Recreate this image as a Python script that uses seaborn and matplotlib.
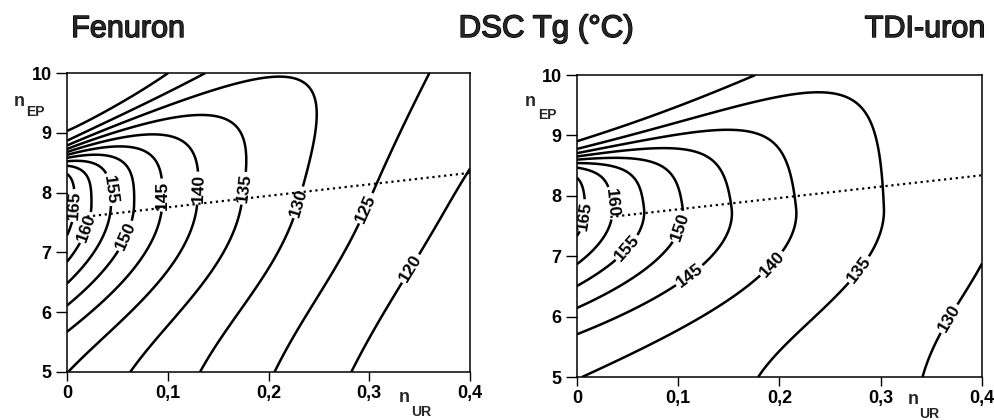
import numpy as np
import matplotlib
matplotlib.use("Agg")
import matplotlib.pyplot as plt
import matplotlib.patheffects as pe
import seaborn as sns

# axes
ur_ticks = [0, 0.1, 0.2, 0.3, 0.4]
ur_labels = ["0", "0,1", "0,2", "0,3", "0,4"]
ep_ticks = [5, 6, 7, 8, 9, 10]

# Tg response surface:
# Tg = base(n_UR) + slope(n_UR)*(n_EP-5) + hump - cliff
# Fenuron
fen_base = [137.6, -62.0, -3.0]           # Tg along n_EP = 5 (poly in n_UR)
fen_slope = [0.7, 3.4, 0.5]               # dTg/dn_EP (poly in n_UR)
fen_hump = [28.0, 0.097, 7.8, 1.8, 10.0]  # height, decay, centre, width below, width above
fen_cliff = [50.0, 0.20, 8.65, 7.0, 8.0, 0.12, 1.9]  # depth, decay, edge poly, edge width
fen_levels = [120, 125, 130, 135, 140, 145, 150, 155, 160, 165]
fen_label_at = {165: (0.012, 7.78), 160: (0.021, 7.4), 155: (0.047, 8.06),
                150: (0.06, 7.26), 145: (0.09, 7.96), 140: (0.122, 8.08),
                135: (0.172, 8.08), 130: (0.231, 7.83), 125: (0.299, 7.72),
                120: (0.344, 6.7)}
fen_dots_ur = [0.02, 0.4]
fen_dots_ep = [7.6, 8.33]

# TDI-uron
tdi_base = [137.4, -13.5, -26.6]
tdi_slope = [-0.6, 0.5, 4.0]
tdi_hump = [31.0, 0.155, 7.8, 1.8, 10.0]
tdi_cliff = [38.0, 0.20, 8.63, 3.2, 14.0, 0.10, 1.4]
tdi_levels = [130, 135, 140, 145, 150, 155, 160, 165]
tdi_label_at = {165: (0.016, 7.65), 160: (0.035, 7.88), 155: (0.05, 7.13),
                150: (0.104, 7.47), 145: (0.112, 6.66), 140: (0.181, 7.05),
                135: (0.27, 6.89), 130: (0.37, 5.94)}
tdi_dots_ur = [0.033, 0.4]
tdi_dots_ep = [7.65, 8.34]


def tg_map(x, y, base, slope, hump, cliff):
    amp, decay, top, w_lo, w_hi = hump
    depth, c_decay, e0, e1, e2, s0, s1 = cliff
    flat = np.polyval(base[::-1], x) + np.polyval(slope[::-1], x) * (y - 5)
    w = np.where(y < top, w_lo, w_hi)
    peak = amp * np.exp(-x / decay) * np.exp(-((y - top) / w) ** 2)
    edge = e0 + e1 * x + e2 * x ** 2
    drop = depth * np.exp(-x / c_decay) / (1 + np.exp(-(y - edge) / (s0 + s1 * x)))
    return flat + peak - drop


sns.set_style("ticks")
plt.rcParams['font.family'] = ['Liberation Sans', 'DejaVu Sans']

ur = np.linspace(0, 0.4, 401)
ep = np.linspace(5, 10, 501)
UR, EP = np.meshgrid(ur, ep)

fig = plt.figure(figsize=(9.95, 4.2), dpi=100)
ax_l = fig.add_axes([67 / 995, 1 - 372 / 420, 403 / 995, 299 / 420])
ax_r = fig.add_axes([577 / 995, 1 - 377 / 420, 405 / 995, 302 / 420])

panels = [
    (ax_l, fen_base, fen_slope, fen_hump, fen_cliff, fen_levels, fen_label_at,
     fen_dots_ur, fen_dots_ep),
    (ax_r, tdi_base, tdi_slope, tdi_hump, tdi_cliff, tdi_levels, tdi_label_at,
     tdi_dots_ur, tdi_dots_ep),
]

for ax, base, slope, hump, cliff, levels, label_at, dx, dy in panels:
    Z = tg_map(UR, EP, base, slope, hump, cliff)
    for lev in levels:
        cs = ax.contour(UR, EP, Z, levels=[lev], colors='black', linewidths=1.8)
        txt = ax.clabel(cs, fmt='%d', fontsize=12.5, inline=True, inline_spacing=2,
                        manual=[label_at[lev]])
        for t in txt:
            t.set_fontweight('bold')
    sns.lineplot(x=dx, y=dy, ax=ax, color='black', linestyle=':', linewidth=1.6)

    ax.set_xlim(0, 0.4)
    ax.set_ylim(5, 10)
    ax.set_xticks(ur_ticks)
    ax.set_xticklabels(ur_labels, fontsize=13, fontweight='bold')
    ax.set_yticks(ep_ticks)
    ax.set_yticklabels([str(v) for v in ep_ticks], fontsize=13, fontweight='bold')
    ax.tick_params(axis='y', direction='out', length=8, width=1, pad=3, colors='black')
    ax.tick_params(axis='x', direction='out', length=6.5, width=1, pad=3, colors='black')
    for sp in ax.spines.values():
        sp.set_visible(True)
        sp.set_linewidth(1.1)
        sp.set_color('black')
    ax.set_xlabel('')
    ax.set_ylabel('')

# axis names (n with subscripts)
fig.text(19 / 995, 1 - 102 / 420, 'n', fontsize=13, fontweight='bold', ha='center', va='center')
fig.text(35 / 995, 1 - 112.5 / 420, 'EP', fontsize=10, fontweight='bold', ha='center', va='center')
fig.text(530 / 995, 1 - 101 / 420, 'n', fontsize=13, fontweight='bold', ha='center', va='center')
fig.text(547.5 / 995, 1 - 115 / 420, 'EP', fontsize=10, fontweight='bold', ha='center', va='center')
fig.text(404 / 995, 1 - 398 / 420, 'n', fontsize=13, fontweight='bold', ha='center', va='center')
fig.text(421 / 995, 1 - 412 / 420, 'UR', fontsize=10, fontweight='bold', ha='center', va='center')
fig.text(913.5 / 995, 1 - 400 / 420, 'n', fontsize=13, fontweight='bold', ha='center', va='center')
fig.text(929.5 / 995, 1 - 414 / 420, 'UR', fontsize=10, fontweight='bold', ha='center', va='center')

# titles
heavy = [pe.withStroke(linewidth=1.0, foreground='black')]
fig.text(128 / 995, 1 - 29 / 420, 'Fenuron', fontsize=22, ha='center', va='center',
         path_effects=heavy)
fig.text(546 / 995, 1 - 29 / 420, 'DSC Tg (°C)', fontsize=22.5, ha='center', va='center',
         path_effects=heavy)
fig.text(925 / 995, 1 - 29 / 420, 'TDI-uron', fontsize=22, ha='center', va='center',
         path_effects=heavy)

fig.savefig('out.png', dpi=100)
